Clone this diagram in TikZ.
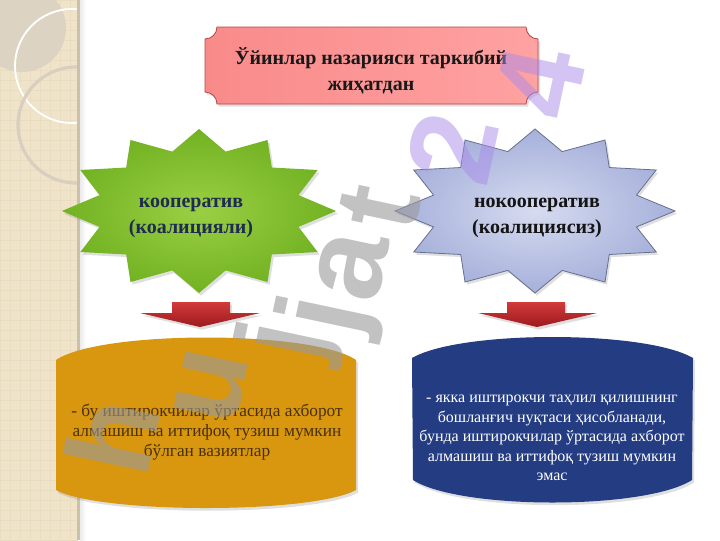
\documentclass[tikz,border=0pt]{standalone}
\usepackage{fontspec}
\setmainfont{Liberation Serif}
\newfontfamily\wmfont{Liberation Sans}
\usetikzlibrary{shadows}
\definecolor{stripc}{HTML}{EFE3C9}
\definecolor{gridc}{HTML}{E9DCC0}
\definecolor{tanc}{HTML}{DDD3C2}
\definecolor{circg}{HTML}{D8CFC0}
\definecolor{greenin}{HTML}{9ACF44}
\definecolor{greenout}{HTML}{72B222}
\definecolor{bluein}{HTML}{D6DBF0}
\definecolor{blueout}{HTML}{A6B0DA}
\definecolor{bluedraw}{HTML}{66708F}
\definecolor{navyt}{HTML}{1E2B52}
\definecolor{brownt}{HTML}{4A3008}
\definecolor{goldside}{HTML}{D8970F}
\definecolor{goldmid}{HTML}{F4C23C}
\definecolor{navyside}{HTML}{243C82}
\definecolor{navymid}{HTML}{3F60AC}
\definecolor{redtop}{HTML}{D23A3A}
\definecolor{redbot}{HTML}{9C1A1E}
\definecolor{pinkside}{HTML}{F98A8A}
\definecolor{pinkmid}{HTML}{FFBDBD}
\definecolor{pinkright}{HTML}{FFA2A2}
\definecolor{wmgray}{HTML}{9A9A9A}
\definecolor{wmlav}{HTML}{A88BEA}
\tikzset{
  shad/.style={drop shadow={opacity=0.25,shadow xshift=1.5pt,shadow yshift=-2pt}},
  bigtext/.style={align=center,inner sep=0pt,font=\bfseries\fontsize{15}{19.5}\selectfont},
  wm/.style={inner sep=0pt,rotate=78,font=\wmfont\bfseries\fontsize{90}{90}\selectfont,opacity=0.6,text=wmgray},
  wml/.style={wm,text=wmlav,opacity=0.5},
  redarrow/.style={top color=redtop,bottom color=redbot,shad}
}
\begin{document}
\begin{tikzpicture}[x=0.75pt,y=-0.75pt]
\useasboundingbox (0,0) rectangle (720,540);
\fill[white] (0,0) rectangle (720,540);
% left decorative strip
\fill[stripc] (0,0) rectangle (78,540);
\begin{scope}
  \clip (0,0) rectangle (78,540);
  \foreach \i in {0,10,...,540} \draw[gridc,line width=0.5pt] (0,\i) -- (78,\i);
  \foreach \i in {0,10,...,78} \draw[gridc,line width=0.5pt] (\i,0) -- (\i,540);
  \fill[tanc] (22,28) circle[radius=44];
  \draw[white,line width=1.4pt] (72,66) circle[radius=57];
  \draw[circg,line width=2.4pt] (76,125) circle[radius=58];
\end{scope}
\fill[black!15!stripc] (77,0) rectangle (80,540);
\shade[left color=black!8, right color=white] (80,0) rectangle (86,540);
% title plaque
\path[shad,draw=red!45!gray,line width=0.6pt,left color=pinkside,middle color=pinkmid,right color=pinkright]
  (205,39) .. controls (211.6,39) and (217,33.6) .. (217,27)
  -- (526,27) .. controls (526,33.6) and (531.4,39) .. (538,39)
  -- (538,92) .. controls (531.4,92) and (526,97.4) .. (526,104)
  -- (217,104) .. controls (217,97.4) and (211.6,92) .. (205,92) -- cycle;
\node[bigtext,text=black!90] (title) at (371,71) {Ўйинлар назарияси таркибий\\жиҳатдан};
% stars
\path[shad,inner color=greenin,outer color=greenout,shift={(199,211)}]
  (90:137 and 82) \foreach \a in {90,120,...,420} { -- (\a:137 and 82) -- (\a+15:103 and 61.5) } -- cycle;
\path[shad,draw=bluedraw,line width=0.6pt,inner color=bluein,outer color=blueout,shift={(535,211)}]
  (90:140 and 82) \foreach \a in {90,120,...,420} { -- (\a:140 and 82) -- (\a+15:105 and 61.5) } -- cycle;
\node[bigtext,text=navyt] (coop) at (191,218) {кооператив\\(коалицияли)};
\node[bigtext,text=black!92] (noncoop) at (537,218) {нокооператив\\(коалициясиз)};
% red block arrows
\path[redarrow] (172,302) -- (230,302) -- (230,313) -- (260,313) -- (200,327) -- (140,313) -- (172,313) -- cycle;
\path[redarrow] (507,302) -- (565,302) -- (565,313) -- (597,313) -- (537,327) -- (478,313) -- (507,313) -- cycle;
% bottom shapes
\path[shad,left color=goldside,middle color=goldmid,right color=goldside]
  (56,360) .. controls (100,330) and (312,330) .. (356,360) -- (356,490)
  .. controls (312,514) and (100,514) .. (56,490) -- cycle;
\path[shad,left color=navyside,middle color=navymid,right color=navyside]
  (412,358) .. controls (460,330) and (645,330) .. (693,358) -- (692,480)
  .. controls (645,510) and (460,510) .. (413,480) -- cycle;
\node[align=center,inner sep=0pt,text=brownt,font=\fontsize{13}{15}\selectfont] (coopdesc) at (207,432)
  {- бу иштирокчилар ўртасида ахборот\\алмашиш ва иттифоқ тузиш мумкин\\бўлган вазиятлар};
\node[align=center,inner sep=0pt,text=white,font=\fontsize{12}{14.6}\selectfont] (noncoopdesc) at (552,438)
  {- якка иштирокчи таҳлил қилишнинг\\бошланғич нуқтаси ҳисобланади,\\бунда иштирокчилар ўртасида ахборот\\алмашиш ва иттифоқ тузиш мумкин\\эмас};
% watermark
\node[wm] (w1) at (112,436) {h};
\node[wm] (w2) at (212,386) {u};
\node[wm] (w3) at (290,342) {j};
\node[wm] (w4) at (330,316) {j};
\node[wm] (w5) at (352,266) {a};
\node[wm] (w6) at (380,208) {t};
\node[wml] (w7) at (452,148) {2};
\node[wml] (w8) at (540,82) {4};
\end{tikzpicture}
\end{document}
